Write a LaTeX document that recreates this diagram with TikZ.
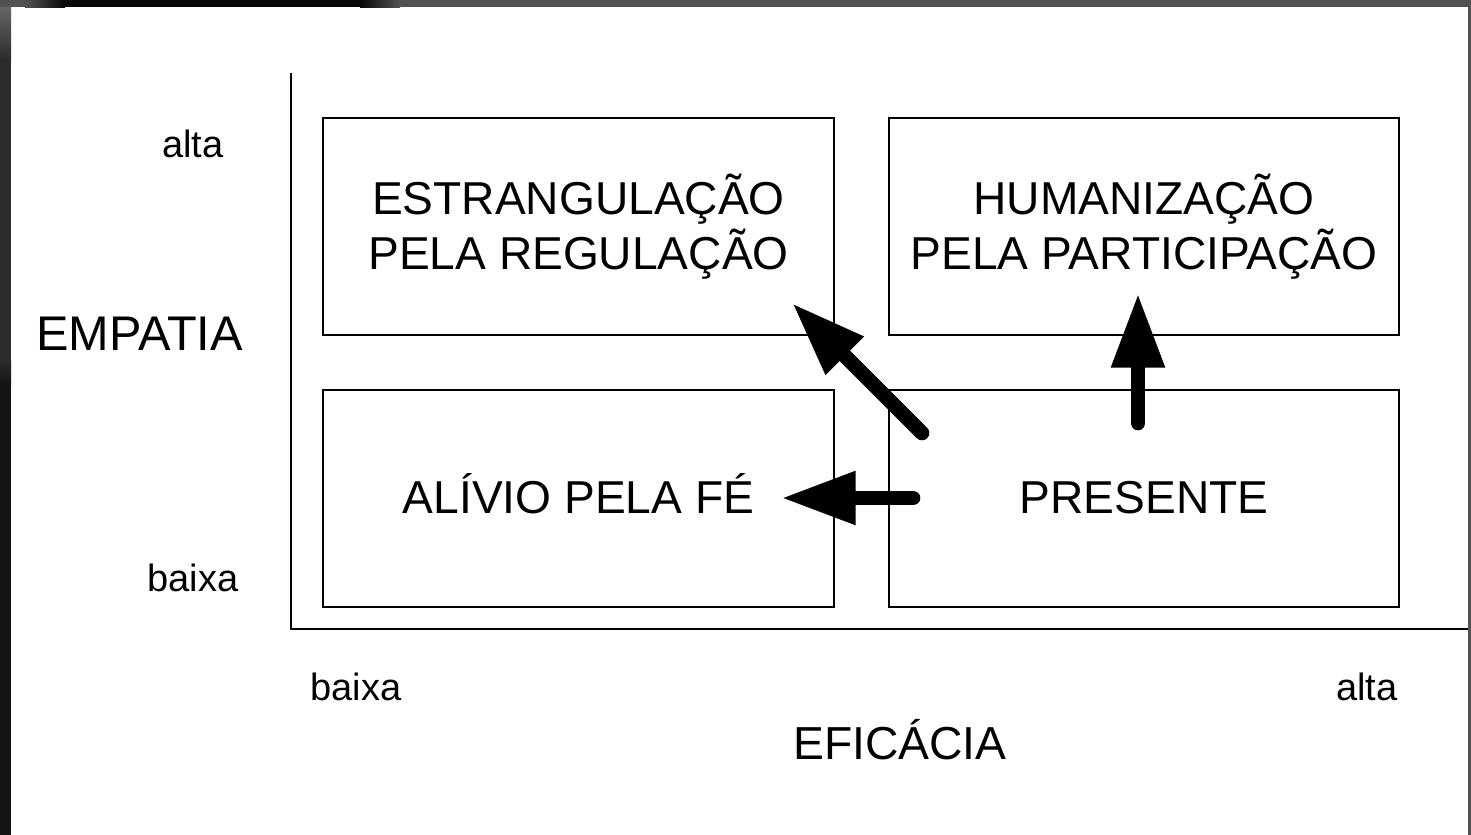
\documentclass[tikz,border=0pt]{standalone}
\usepackage{fontspec}
\setmainfont{Liberation Sans}
\usetikzlibrary{arrows.meta}
\definecolor{frgray}{HTML}{525252}
\definecolor{frdark}{HTML}{080808}
\definecolor{lfup}{HTML}{2C2C2C}
\definecolor{lflo}{HTML}{141414}
\begin{document}
\begin{tikzpicture}[x=0.75pt,y=-0.75pt,
  quad/.style={draw=black,line width=1.5pt,minimum width=383pt,minimum height=163pt,inner sep=0pt},
  intext/.style={font=\fontsize{34.6}{40}\selectfont,inner sep=0pt,anchor=base},
  big/.style={font=\fontsize{34.7}{40}\selectfont,inner sep=0pt,anchor=base},
  small/.style={font=\fontsize{28.5}{32}\selectfont,inner sep=0pt,anchor=base},
  axis/.style={line width=1.5pt},
  fat/.style={line width=11pt,line cap=round,-{Triangle[length=56pt,width=37.5pt]}}]
\useasboundingbox (0,0) rectangle (1471,835);
\fill[white] (0,0) rectangle (1471,835);
% dark frame
\fill[frgray] (0,0) rectangle (1471,7);
\shade[left color=frgray,right color=frdark] (25,0) rectangle (65,7);
\fill[frdark] (65,0) rectangle (360,7);
\shade[left color=frdark,right color=frgray] (360,0) rectangle (400,7);
\shade[top color=black!60,bottom color=lfup] (0,7) rectangle (11,60);
\fill[lfup] (0,60) rectangle (11,360);
\shade[top color=lfup,bottom color=lflo] (0,360) rectangle (11,385);
\fill[lflo] (0,385) rectangle (11,835);
\fill[frgray] (1468,7) rectangle (1471,835);
% axes
\draw[axis] (291,73) -- (291,629) -- (1468,629);
% boxes
\node[quad] (tl) at (578.5,226.5) {};
\node[quad] (tr) at (1144,226.5) {};
\node[quad] (bl) at (578.5,498.5) {};
\node[quad] (br) at (1144,498.5) {};
\node[intext] (tl1) at (578.5,214) {ESTRANGULAÇÃO};
\node[intext] (tl2) at (578.5,269) {PELA REGULAÇÃO};
\node[intext] (tr1) at (1144,214) {HUMANIZAÇÃO};
\node[intext] (tr2) at (1144,269) {PELA PARTICIPAÇÃO};
\node[intext] (blt) at (578.5,513) {ALÍVIO PELA FÉ};
\node[intext] (brt) at (1144,513) {PRESENTE};
% labels
\node[small] (ya) at (193,157) {alta};
\node[small] (yb) at (193,591) {baixa};
\node[big,font=\fontsize{36.5}{40}\selectfont] (yl) at (139.5,350) {EMPATIA};
\node[small] (xb) at (356,700) {baixa};
\node[small] (xa) at (1367,700) {alta};
\node[big] (xl) at (900,759) {EFICÁCIA};
% arrows
\coordinate (d0) at (922,433);
\coordinate (d1) at (792,303);
\coordinate (v0) at (1138,423);
\coordinate (v1) at (1138,293);
\coordinate (h0) at (913,498);
\coordinate (h1) at (781,498);
\draw[fat] (d0) -- (d1);
\draw[fat] (v0) -- (v1);
\draw[fat] (h0) -- (h1);
\end{tikzpicture}
\end{document}
